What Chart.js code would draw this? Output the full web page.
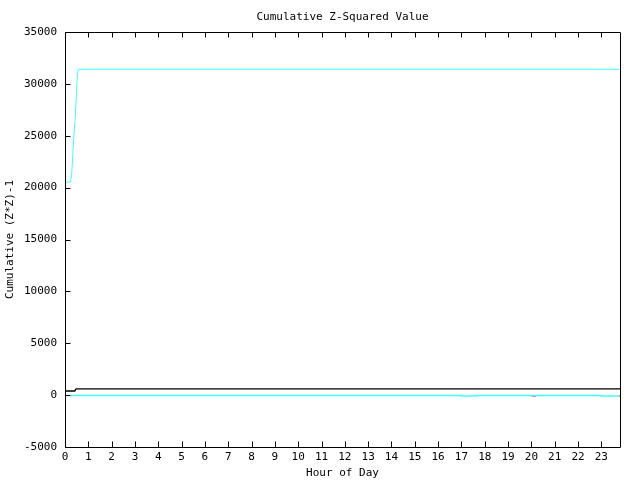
<!DOCTYPE html>
<html>
<head>
<meta charset="utf-8">
<script src="https://cdn.jsdelivr.net/npm/chart.js@4/dist/chart.umd.min.js"></script>
<style>
html,body{margin:0;padding:0;background:#fff;}
canvas{display:block;}
</style>
</head>
<body>
<canvas id="c" width="640" height="480"></canvas>
<script>
// ---- data ----
const xTicks = [0,1,2,3,4,5,6,7,8,9,10,11,12,13,14,15,16,17,18,19,20,21,22,23];
const yTicks = [-5000,0,5000,10000,15000,20000,25000,30000,35000];

const bigHours  = [0, 0.24, 0.29, 0.33, 0.38, 0.44, 0.48, 0.52, 0.56, 23.8];
const bigValues = [20530, 20530, 21400, 23100, 24900, 26800, 28600, 30400, 31400, 31400];

const blackHours  = [0, 0.42, 0.45, 0.48, 23.8];
const blackValues = [400, 400, 520, 600, 600];

const zeroHours  = [0, 17.0, 17.0, 17.6, 17.6, 23.0, 23.0, 23.75];
const zeroValues = [-30, -30, -80, -80, -30, -30, -80, -80];

const magHours  = [20.0, 20.2];
const magValues = [-110, -110];

const redHours  = [23.75, 23.8];
const redValues = [-90, -90];

const titleText = 'Cumulative Z-Squared Value';
const xTitle = 'Hour of Day';
const yTitle = 'Cumulative (Z*Z)-1';

const FONT = '"DejaVu Sans Mono", "Liberation Mono", monospace';
const FS = 11;

function pts(xs, ys){ return xs.map((x,i)=>({x:x, y:ys[i]})); }

const frame = {
  id:'frame',
  afterDraw(chart){
    const {ctx, chartArea:a, scales:{x, y}} = chart;
    ctx.save();
    ctx.strokeStyle = '#000';
    ctx.lineWidth = 1;
    const L = Math.round(a.left)+0.5, R = Math.round(a.right)+0.5;
    const T = Math.round(a.top)+0.5, B = Math.round(a.bottom)+0.5;
    ctx.beginPath();
    ctx.rect(L, T, R-L, B-T);
    xTicks.forEach(v=>{
      const p = Math.round(x.getPixelForValue(v))+0.5;
      ctx.moveTo(p, B); ctx.lineTo(p, B-6);
      ctx.moveTo(p, T); ctx.lineTo(p, T+5);
    });
    yTicks.forEach(v=>{
      const p = Math.round(y.getPixelForValue(v))+0.5;
      ctx.moveTo(L, p); ctx.lineTo(L+5, p);
    });
    ctx.stroke();
    ctx.fillStyle = '#000';
    ctx.font = FS + 'px ' + FONT;
    ctx.textAlign = 'center';
    ctx.textBaseline = 'middle';
    ctx.fillText(titleText, (a.left + a.right) / 2, 17);
    ctx.restore();
  }
};

new Chart(document.getElementById('c'), {
  type: 'line',
  data: {
    datasets: [
      {data: pts(bigHours, bigValues), borderColor:'#40ffff', borderWidth:1, pointRadius:0, tension:0},
      {data: pts(blackHours, blackValues), borderColor:'#000000', borderWidth:1.3, pointRadius:0, tension:0},
      {data: pts(zeroHours, zeroValues), borderColor:'#40ffff', borderWidth:1.5, pointRadius:0, tension:0},
      {data: pts(magHours, magValues), borderColor:'#ff40ff', borderWidth:1, pointRadius:0, tension:0},
      {data: pts(redHours, redValues), borderColor:'#ff0000', borderWidth:1, pointRadius:0, tension:0}
    ]
  },
  options: {
    responsive:false,
    animation:false,
    events:[],
    layout:{padding:{top:32, right:20, left:0, bottom:0}},
    plugins:{legend:{display:false}, tooltip:{enabled:false}, title:{display:false}},
    scales:{
      x:{
        type:'linear', min:0, max:23.8,
        afterBuildTicks: s => { s.ticks = xTicks.map(v=>({value:v})); },
        afterFit: s => { s.height = 33; },
        grid:{display:false, drawTicks:false},
        border:{display:false},
        ticks:{color:'#000', padding:4, maxRotation:0, autoSkip:false, font:{family:FONT, size:FS},
               callback: v => String(v)},
        title:{display:true, text:xTitle, color:'#000', font:{family:FONT, size:FS}, padding:{top:0, bottom:0}}
      },
      y:{
        type:'linear', min:-5000, max:35000,
        afterBuildTicks: s => { s.ticks = yTicks.map(v=>({value:v})); },
        afterFit: s => { s.width = 65; },
        grid:{display:false, drawTicks:false},
        border:{display:false},
        ticks:{color:'#000', padding:8, autoSkip:false, font:{family:FONT, size:FS},
               callback: v => String(v)},
        title:{display:true, text:yTitle, color:'#000', font:{family:FONT, size:FS}, padding:{top:4, bottom:0}}
      }
    }
  },
  plugins:[frame]
});
</script>
</body>
</html>
